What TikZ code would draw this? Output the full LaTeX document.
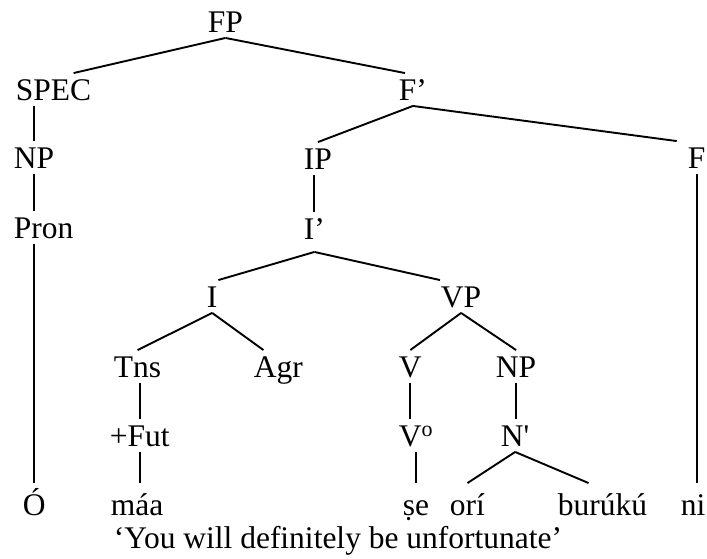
\documentclass[tikz,border=0pt]{standalone}
\usepackage{fontspec}
\setmainfont{Liberation Serif}

\begin{document}
\begin{tikzpicture}[x=1pt, y=-1pt, line width=1.9pt,
  cat/.style={anchor=base west, inner xsep=0pt, inner ysep=5pt, text height=21pt, text depth=0pt,
              font=\fontsize{31.5}{38}\selectfont},
  word/.style={cat, text height=26pt}]

  %% ════ 范畴标签（左端 x, 基线 y）════
  \node[cat] (fp)   at (207,32)  {FP};
  \node[cat] (spec) at (15,100)  {SPEC};
  \node[cat] (fpr)  at (398,100) {F’};
  \node[cat] (np)   at (13,168)  {NP};
  \node[cat] (ip)   at (303,169) {IP};
  \node[cat] (f)    at (687,168) {F};
  \node[cat] (pron) at (13,238)  {Pron};
  \node[cat] (ipr)  at (303,239) {I’};
  \node[cat] (i)    at (206,307) {I};
  \node[cat] (vp)   at (440,307) {VP};
  \node[cat] (tns)  at (113,377) {Tns};
  \node[cat] (agr)  at (253,377) {Agr};
  \node[cat] (v)    at (398,377) {V};
  \node[cat] (npo)  at (495,377) {NP};
  \node[cat] (fut)  at (109,446) {+Fut};
  \node[cat] (vo)   at (398,446) {V\textsuperscript{o}};
  \node[cat] (nb)   at (500,446) {N\textquotesingle};

  %% ════ 词行 + 译文 ════
  \node[word] (o)      at (22,515)  {Ó};
  \node[word] (maa)    at (110,515) {máa};
  \node[word] (se)     at (402,515) {ṣe};
  \node[word] (ori)    at (449,515) {orí};
  \node[word] (buruku) at (557,515) {burúkú};
  \node[word] (ni)     at (680,515) {ni};
  \node[cat]  (gloss)  at (113,548) {‘You will definitely be unfortunate’};

  %% ════ 分支（斜线）════
  \draw (fp.south) -- ([xshift=20pt]spec.north);
  \draw (fp.south) -- ([xshift=-8pt]fpr.north);
  \draw (fpr.south) -- (ip.north);
  \draw (fpr.south) -- ([xshift=-20pt]f.north);
  \draw ([yshift=-7pt]ipr.south) -- (i.north east);
  \draw ([yshift=-7pt]ipr.south) -- (vp.north west);
  \draw (i.south) -- (tns.north);
  \draw (i.south) -- ([xshift=-15pt]agr.north);
  \draw (vp.south) -- (v.north);
  \draw (vp.south) -- (npo.north);
  \draw (nb.south) -- (ori.north);
  \draw (nb.south) -- ([xshift=-14pt]buruku.north);

  %% ════ 单支（竖线）════
  \draw (np.north |- spec.south) -- (np.north);
  \draw (np.south) -- (np.south |- pron.north);
  \draw (o.north |- pron.south) -- (o.north);
  \draw (f.south) -- (f.south |- ni.north);
  \draw (ipr.north |- ip.south) -- (ipr.north);
  \draw (fut.north |- tns.south) -- (fut.north);
  \draw (fut.south) -- (fut.south |- maa.north);
  \draw (v.south) -- (v.south |- vo.north);
  \draw (npo.south) -- (npo.south |- nb.north);
  \draw (vo.south) -- (vo.south |- se.north);

  % 固定画布大小
  \pgfresetboundingbox
  \path[use as bounding box] (0,0) rectangle (707,558);
\end{tikzpicture}
\end{document}
